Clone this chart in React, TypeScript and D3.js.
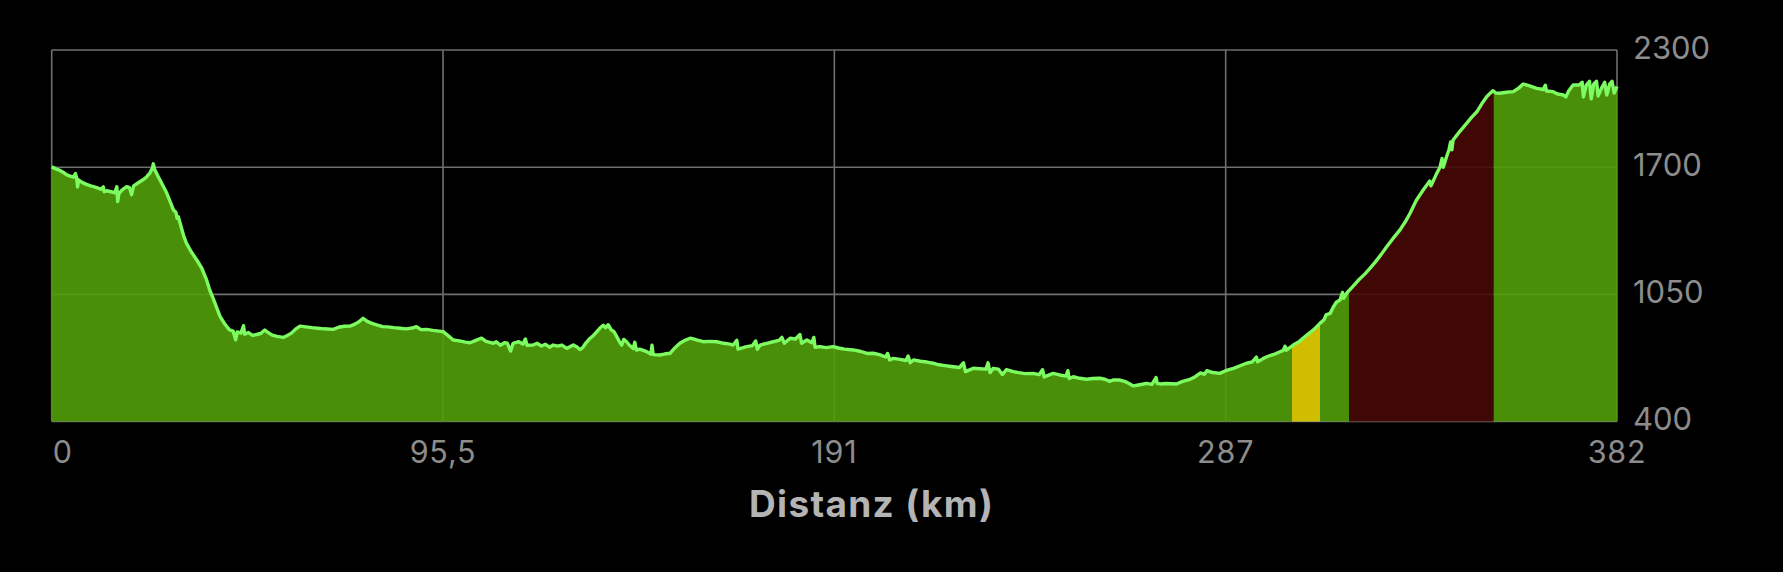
import React from "react";
import * as d3 from "d3";

// elevation profile: [distance km, elevation m]
const profile: [number, number][] = [
  [0,1703],[1,1692],[2,1684],[3,1672],[3.7,1661],[4.5,1655],[5.3,1650],[5.8,1668],[6.1,1644],[6.3,1600],[6.6,1635],
  [7.5,1622],[8.5,1613],[9.5,1605],[10.2,1601],[11,1596],[12,1588],[12.6,1600],[12.8,1575],[13.4,1580],[14.5,1575],
  [15.4,1570],[15.9,1600],[16.1,1525],[16.4,1565],[17.2,1585],[18.3,1601],[19,1596],[19.5,1560],[20,1605],[21.5,1626],
  [22.4,1638],[23.2,1652],[24,1672],[24.6,1698],[24.8,1718],[25.1,1690],[26,1652],[27,1612],[28.1,1567],[29,1520],
  [29.7,1482],[30.3,1470],[30.6,1440],[30.9,1447],[31.6,1395],[32.2,1350],[32.9,1311],[34,1270],[35.4,1226],[36.6,1185],
  [37.8,1124],[38.6,1070],[39.4,1030],[40.3,980],[41.1,936],[42.2,900],[43.4,868],[44.3,862],[44.9,818],[45.3,858],
  [46.2,852],[46.8,890],[47.1,846],[48,855],[49,840],[50,845],[51,850],[52,868],[52.8,855],[53.8,842],[55,835],
  [56.5,830],[57.5,840],[58.5,852],[59.5,872],[60.6,888],[62,884],[63.5,880],[64.9,877],[66.5,874],[68.7,871],[70,882],
  [71.4,887],[72.8,888],[74,898],[75,910],[76,928],[77,912],[78,903],[79.3,894],[80.8,885],[82,884],[83.5,880],[85,877],
  [86.5,874],[88,878],[89,885],[90.1,870],[91.5,871],[93,866],[94.5,862],[95.6,859],[96.8,838],[98,817],[99.5,812],
  [101,806],[102.1,803],[103.5,815],[104.9,826],[106,810],[107.8,800],[108.5,808],[109.5,790],[110.5,803],[111.2,800],
  [112,760],[112.6,800],[114,808],[115,796],[115.6,822],[116,790],[117.5,791],[118.5,800],[119.5,786],[120.5,795],
  [121.5,780],[122.4,791],[123.5,785],[124.5,791],[125.7,774],[127.3,791],[128.2,781],[128.9,768],[129.6,778],[130.3,800],
  [131.4,826],[132.2,840],[133,859],[133.8,878],[134.6,892],[135.2,880],[135.8,895],[136.5,870],[137.2,860],[137.9,834],
  [138.5,810],[139.1,791],[139.6,820],[140.3,808],[141,790],[141.9,774],[142.3,805],[142.7,765],[143.5,770],[145.2,757],
  [146.2,745],[146.5,790],[146.8,742],[148.4,740],[149.5,745],[150.9,749],[152,775],[153.3,800],[154.5,815],[155.8,826],
  [157.3,818],[159,808],[160.5,810],[162.3,808],[164,800],[165.5,796],[166.3,791],[167.2,815],[167.5,770],[169.6,783],
  [171,788],[171.8,812],[172.2,770],[172.9,791],[174.5,800],[176.1,808],[177.5,815],[178.2,830],[178.8,800],[180.2,826],
  [181.5,822],[182.6,845],[183,800],[184.3,817],[185.5,803],[186,830],[186.3,780],[187.5,783],[189,778],[190.7,783],
  [192,776],[193.5,770],[195.6,766],[197.5,758],[199,748],[200.5,749],[202,742],[203.5,730],[204,748],[204.5,715],
  [205.4,723],[207,718],[208.5,712],[209,735],[209.5,700],[210.3,715],[212,708],[213.6,704],[215.1,698],[216.5,690],
  [218,686],[220,680],[221.5,676],[222.5,700],[223,655],[224.9,672],[226.5,670],[228,668],[228.5,700],[229,650],
  [229.8,672],[231,668],[232,640],[233,665],[234.7,655],[236,650],[237.5,645],[239.5,646],[241,640],[241.8,665],
  [242.2,628],[244.4,646],[246,638],[247.5,632],[248,660],[248.3,620],[249.3,629],[250.9,621],[252.6,616],[254,620],
  [255.8,621],[257,616],[258.2,605],[259,612],[260.7,612],[262,604],[264,582],[265.5,588],[267.2,595],[268.5,590],
  [269.5,625],[269.8,595],[270.5,592],[272,594],[274.5,592],[276,605],[277.8,616],[279,628],[280.3,648],[281.3,642],
  [281.9,660],[283,652],[285.1,646],[286.5,660],[288.4,672],[290,685],[291.6,698],[293,705],[294,730],[294.3,705],
  [295.7,723],[297,735],[298.5,745],[299.8,757],[300.5,762],[301,785],[301.3,765],[303,791],[304.5,810],[306.3,842],
  [308,870],[309.5,902],[310.5,920],[311,945],[312,953],[312.8,987],[313.5,1010],[314.4,1021],[315,1060],[315.3,1030],
  [316,1056],[317.5,1090],[319,1125],[320.5,1155],[321.7,1183],[323,1215],[324.5,1256],[325.8,1294],[327.3,1335],
  [329,1379],[330.3,1420],[331.5,1465],[333,1530],[334.7,1584],[336.3,1630],[336.6,1605],[338,1669],[338.8,1700],
  [339.3,1745],[339.6,1700],[340.4,1754],[341,1790],[341.4,1830],[341.7,1790],[342,1840],[343.5,1880],[345.3,1925],
  [346.5,1955],[347.8,1984],[349,2025],[350.2,2061],[351,2078],[351.7,2092],[352.5,2080],[353.4,2079],[355,2084],
  [356.7,2087],[358,2105],[359.1,2126],[360.5,2118],[362.4,2104],[364,2098],[364.5,2120],[364.8,2090],[366.4,2087],
  [367.5,2075],[368.9,2070],[369.5,2060],[370.2,2090],[371.3,2121],[372.8,2121],[373.5,2135],[373.8,2060],[374.5,2120],
  [375.3,2140],[375.7,2050],[376.3,2125],[377,2140],[377.4,2065],[378.2,2104],[379,2135],[379.5,2070],[380.2,2125],
  [380.8,2140],[381.3,2080],[382,2113],
];

// slope-class bands along the route (km)
const bandStarts = [0, 302.7, 309.5, 316.6, 351.9];
const bandEnds = [302.7, 309.5, 316.6, 351.9, 382];
const bandColors = ["#519f09", "#e8d200", "#519f09", "#460904", "#519f09"];

const xTickValues = [0, 95.5, 191, 286.5, 382];
const xTickLabels = ["0", "95,5", "191", "287", "382"];
const yTickValues = [400, 1050, 1700, 2300];
const xTitle = "Distanz (km)";

const W = 1783;
const H = 572;
const left = 51.7;
const right = 1617;
const top = 50;
const bottom = 421.5;

export default function App() {
  const x = d3.scaleLinear().domain([0, 382]).range([left, right]);
  const y = d3.scaleLinear().domain([400, 2300]).range([bottom, top]);
  const area = d3
    .area<[number, number]>()
    .x((d) => x(d[0]))
    .y0(y(400))
    .y1((d) => y(d[1]));
  const line = d3
    .line<[number, number]>()
    .x((d) => x(d[0]))
    .y((d) => y(d[1]));
  const areaPath = area(profile) || "";
  const linePath = line(profile) || "";
  const grid = "#6f6f6f";
  const font = "Inter, 'Noto Sans', sans-serif";

  return (
    <div style={{ position: "absolute", left: 0, top: 0, width: W, height: H, background: "#000" }}>
      <svg width={W} height={H} style={{ display: "block", background: "#000" }}>
        <defs>
          {bandStarts.map((s, i) => (
            <clipPath id={`band${i}`} key={i}>
              <rect x={x(s)} y={0} width={x(bandEnds[i]) - x(s)} height={H} />
            </clipPath>
          ))}
        </defs>
        {/* grid */}
        {yTickValues.map((v) => (
          <line key={`gy${v}`} x1={left} x2={right} y1={y(v)} y2={y(v)} stroke={grid} strokeWidth={1.6} />
        ))}
        {xTickValues.map((v) => (
          <line key={`gx${v}`} x1={x(v)} x2={x(v)} y1={top} y2={bottom} stroke={grid} strokeWidth={1.6} />
        ))}
        {/* area bands */}
        {bandStarts.map((s, i) => (
          <path key={`a${i}`} d={areaPath} fill={bandColors[i]} fillOpacity={0.9} clipPath={`url(#band${i})`} />
        ))}
        <path d={linePath} fill="none" stroke="#7dfc62" strokeWidth={3.4} strokeLinejoin="round" />
        {/* x tick labels */}
        {xTickValues.map((v, i) => (
          <text
            key={`tx${v}`}
            x={i === 0 ? x(v) + 1 : x(v)}
            y={463}
            textAnchor={i === 0 ? "start" : "middle"}
            fill="#8c8c8c"
            fontFamily={font}
            fontSize={30.5}
            letterSpacing={0.8}
          >
            {xTickLabels[i]}
          </text>
        ))}
        {/* y tick labels */}
        {yTickValues.map((v) => (
          <text key={`ty${v}`} x={1633} y={y(v) + 8.5} fill="#8c8c8c" fontFamily={font} fontSize={31}>
            {v}
          </text>
        ))}
        <text
          x={871.6}
          y={517.3}
          textAnchor="middle"
          fill="#b4b4b4"
          fontFamily={font}
          fontWeight={700}
          fontSize={37}
          letterSpacing={1.3}
        >
          {xTitle}
        </text>
      </svg>
    </div>
  );
}
